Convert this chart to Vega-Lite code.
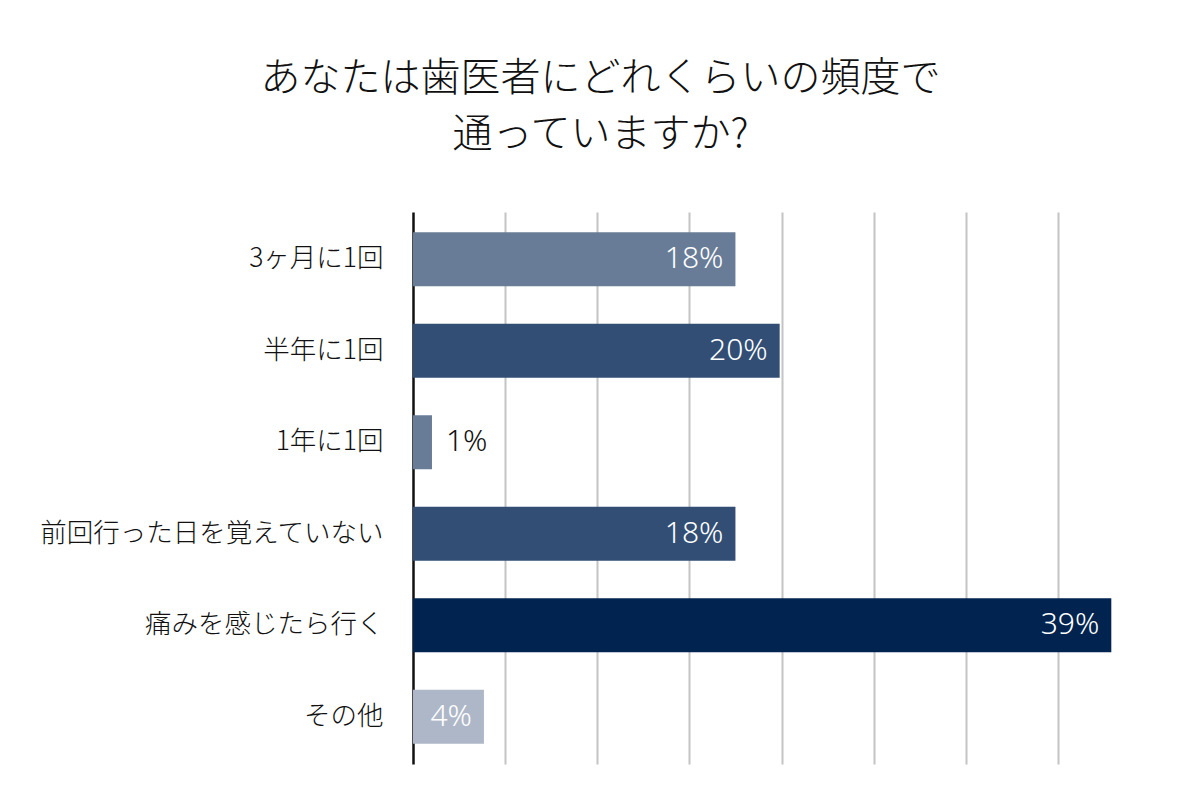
{
  "$schema": "https://vega.github.io/schema/vega-lite/v6.json",
  "width": 737,
  "height": 552,
  "autosize": {"type": "none"},
  "padding": {"left": 413, "top": 212, "right": 50, "bottom": 37},
  "background": "white",
  "title": {
    "text": ["あなたは歯医者にどれくらいの頻度で", "通っていますか?"],
    "font": "Noto Sans CJK JP",
    "fontWeight": 300,
    "fontSize": 40,
    "lineHeight": 56,
    "color": "#111111",
    "anchor": "middle",
    "dx": -181,
    "offset": 57
  },
  "data": {
    "values": [
      {"cat": "3ヶ月に1回", "v": 17.5, "label": "18%"},
      {"cat": "半年に1回", "v": 19.9, "label": "20%"},
      {"cat": "1年に1回", "v": 1.03, "label": "1%"},
      {"cat": "前回行った日を覚えていない", "v": 17.5, "label": "18%"},
      {"cat": "痛みを感じたら行く", "v": 37.9, "label": "39%"},
      {"cat": "その他", "v": 3.85, "label": "4%"}
    ]
  },
  "encoding": {
    "y": {
      "field": "cat",
      "type": "nominal",
      "sort": null,
      "title": null,
      "scale": {"paddingInner": 0.41, "paddingOuter": 0.22},
      "axis": {
        "domain": true,
        "domainColor": "#111111",
        "domainWidth": 2.5,
        "ticks": false,
        "labelFont": "Noto Sans CJK JP",
        "labelFontWeight": 300,
        "labelFontSize": 26.5,
        "labelColor": "#111111",
        "labelPadding": 30,
        "labelLimit": 400
      }
    },
    "x": {
      "field": "v",
      "type": "quantitative",
      "title": null,
      "scale": {"domain": [0, 40], "nice": false},
      "axis": {
        "values": [5, 10, 15, 20, 25, 30, 35],
        "grid": true,
        "gridColor": "#c4c4c4",
        "gridWidth": 2,
        "domain": false,
        "ticks": false,
        "labels": false
      }
    }
  },
  "layer": [
    {
      "mark": {"type": "bar"},
      "encoding": {
        "color": {
          "field": "cat",
          "type": "nominal",
          "legend": null,
          "scale": {
            "domain": ["3ヶ月に1回", "半年に1回", "1年に1回", "前回行った日を覚えていない", "痛みを感じたら行く", "その他"],
            "range": ["#687c98", "#324e75", "#687c98", "#324e75", "#00234f", "#aeb7c7"]
          }
        }
      }
    },
    {
      "transform": [{"filter": "datum.v >= 2"}],
      "mark": {"type": "text", "align": "right", "dx": -12, "font": "Noto Sans", "fontWeight": 300, "fontSize": 30, "color": "white"},
      "encoding": {"text": {"field": "label"}}
    },
    {
      "transform": [{"filter": "datum.v < 2"}],
      "mark": {"type": "text", "align": "left", "dx": 14, "font": "Noto Sans", "fontWeight": 300, "fontSize": 30, "color": "#111111"},
      "encoding": {"text": {"field": "label"}}
    }
  ],
  "config": {"view": {"stroke": null}}
}
